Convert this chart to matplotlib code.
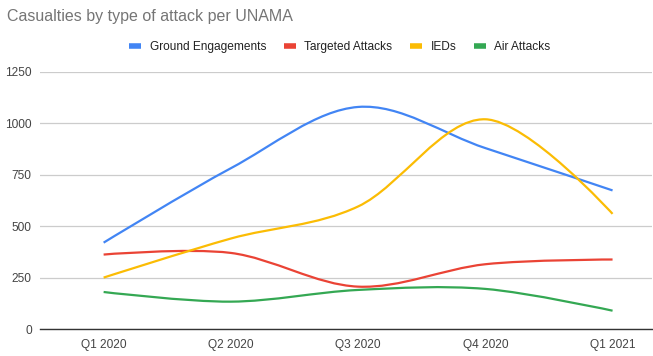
import numpy as np
import matplotlib
matplotlib.use("Agg")
import matplotlib.pyplot as plt
from matplotlib.path import Path
from matplotlib.patches import PathPatch
from matplotlib.lines import Line2D

# ----------- data ----------------
quarters = ["Q1 2020", "Q2 2020", "Q3 2020", "Q4 2020", "Q1 2021"]
ground = [420, 782, 1080, 880, 674]
targeted = [362, 370, 206, 315, 338]
ieds = [250, 440, 596, 1020, 560]
air = [180, 133, 190, 195, 89]

names = ["Ground Engagements", "Targeted Attacks", "IEDs", "Air Attacks"]
colors = ["#4285F4", "#EA4335", "#FBBC04", "#34A853"]
yticks = [0, 250, 500, 750, 1000, 1250]

plt.rcParams["font.family"] = ["Liberation Sans", "DejaVu Sans"]


def smooth_path(x, y, k=1.0 / 6):
    # cubic bezier through every point (catmull-rom style tangents)
    x = np.asarray(x, float)
    y = np.asarray(y, float)
    n = len(x)
    verts = [(x[0], y[0])]
    codes = [Path.MOVETO]
    for i in range(n - 1):
        a = max(i - 1, 0)
        b = min(i + 2, n - 1)
        if i == 0:
            c1 = (x[i], y[i])
        else:
            c1 = (x[i] + k * (x[i + 1] - x[a]), y[i] + k * (y[i + 1] - y[a]))
        if i + 1 == n - 1:
            c2 = (x[i + 1], y[i + 1])
        else:
            c2 = (x[i + 1] - k * (x[b] - x[i]), y[i + 1] - k * (y[b] - y[i]))
        verts += [c1, c2, (x[i + 1], y[i + 1])]
        codes += [Path.CURVE4] * 3
    return Path(verts, codes)


fig = plt.figure(figsize=(6.53, 3.56), dpi=100)
ax = fig.add_axes([40 / 653, 1 - 329 / 356, 612 / 653, 257 / 356])

xs = np.arange(len(quarters))
for series, c in zip([ground, targeted, ieds, air], colors):
    ax.add_patch(PathPatch(smooth_path(xs, series), fill=False, edgecolor=c,
                           lw=1.6, capstyle="butt", zorder=3))

ax.set_xlim(-0.5, 4.31)
ax.set_ylim(0, 1250)
ax.set_yticks(yticks)
ax.set_yticklabels([str(v) for v in yticks])
ax.set_xticks(xs)
ax.set_xticklabels(quarters)
ax.tick_params(length=0, labelsize=8.6, labelcolor="#444444")
ax.tick_params(axis="y", pad=6)
ax.tick_params(axis="x", pad=7)
ax.grid(axis="y", color="#cccccc", lw=0.9)
ax.set_axisbelow(True)
for s in ["top", "right", "left"]:
    ax.spines[s].set_visible(False)
ax.spines["bottom"].set_color("#333333")
ax.spines["bottom"].set_linewidth(1.0)
ax.spines["bottom"].set_zorder(4)

fig.text(7 / 653, 1 - 17 / 356, "Casualties by type of attack per UNAMA",
         fontsize=11.5, color="#757575", ha="left", va="center")

handles = [Line2D([], [], color=c, lw=4, solid_capstyle="butt") for c in colors]
fig.legend(handles, names, loc="center", bbox_to_anchor=(340 / 653, 1 - 47 / 356),
           ncol=4, frameon=False, fontsize=8.6, handlelength=1.0,
           handletextpad=0.7, columnspacing=1.5, labelcolor="#222222")

fig.savefig("out.png", dpi=100)
